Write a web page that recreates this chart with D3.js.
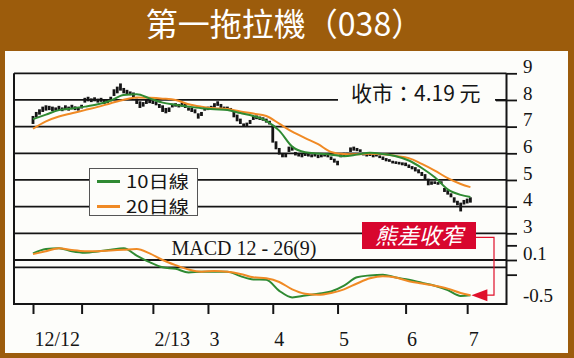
<!DOCTYPE html>
<html><head><meta charset="utf-8">
<script src="https://cdn.jsdelivr.net/npm/d3@7"></script>
<style>html,body{margin:0;padding:0;background:#9c5c0c;}svg{display:block;}</style>
</head><body>
<svg id="c" width="574" height="358"></svg>
<script>
// ---- data ----
const dayHigh = [7.40,7.55,7.65,7.75,7.80,7.78,7.75,7.72,7.78,7.72,7.80,7.75,7.82,7.76,7.74,7.82,8.08,8.12,8.06,8.10,
8.05,8.08,8.00,8.02,8.12,8.40,8.50,8.62,8.45,8.38,8.32,8.28,8.05,7.95,7.92,8.00,8.02,7.98,7.95,7.85,
7.80,7.70,7.72,7.86,7.88,7.85,7.90,7.85,7.72,7.70,7.65,7.50,7.55,7.72,7.75,7.78,7.88,7.95,7.85,7.75,
7.75,7.70,7.55,7.45,7.30,7.12,7.15,7.25,7.40,7.42,7.38,7.35,7.30,7.22,7.05,6.45,6.20,5.98,5.98,6.25,
6.25,6.05,6.00,5.98,6.02,5.98,5.96,5.98,5.95,5.96,6.00,5.95,5.88,5.80,5.72,5.98,6.02,6.02,6.22,6.25,
6.20,6.15,6.02,5.98,5.98,5.95,5.96,5.92,5.88,5.82,5.78,5.72,5.70,5.68,5.66,5.65,5.58,5.52,5.48,5.40,
5.30,5.22,5.05,4.95,4.95,4.92,4.95,4.70,4.62,4.50,4.35,4.22,4.15,4.25,4.30,4.35];
const dayLow = [7.10,7.35,7.45,7.55,7.60,7.62,7.58,7.60,7.62,7.58,7.62,7.60,7.65,7.62,7.60,7.68,7.90,7.95,7.92,7.95,
7.90,7.93,7.85,7.88,7.95,8.15,8.25,8.35,8.25,8.20,8.18,8.10,7.85,7.70,7.75,7.85,7.88,7.85,7.80,7.70,
7.55,7.50,7.55,7.72,7.75,7.72,7.75,7.70,7.60,7.55,7.50,7.30,7.40,7.60,7.62,7.65,7.72,7.78,7.70,7.65,
7.62,7.60,7.35,7.20,7.10,7.00,7.02,7.10,7.25,7.28,7.25,7.22,7.15,7.08,6.40,6.15,5.95,5.85,5.85,6.05,
6.10,5.92,5.88,5.85,5.90,5.88,5.85,5.88,5.82,5.85,5.88,5.85,5.75,5.65,5.55,5.85,5.90,5.92,6.05,6.10,
6.08,6.05,5.92,5.88,5.90,5.85,5.88,5.82,5.75,5.70,5.68,5.62,5.60,5.58,5.55,5.52,5.45,5.40,5.32,5.25,
5.15,5.00,4.80,4.82,4.85,4.82,4.85,4.55,4.45,4.35,4.15,4.05,3.82,4.08,4.12,4.15];
const sampleDays = [0,4,8,12,16,20,24,28,32,36,40,44,48,52,56,60,64,68,72,76,80,84,88,92,96,100,104,108,112,116,120,124,128,132,135];
const ma10 = [7.28,7.45,7.62,7.68,7.75,7.84,7.98,8.19,8.21,8.06,7.90,7.82,7.75,7.69,7.65,7.62,7.51,7.40,7.22,6.85,
6.25,6.04,5.99,5.95,5.89,5.95,6.02,5.97,5.89,5.73,5.45,5.10,4.65,4.44,4.36];
const ma20 = [6.92,7.20,7.38,7.50,7.62,7.74,7.88,8.01,8.09,8.08,8.05,8.00,7.84,7.75,7.69,7.66,7.57,7.49,7.40,7.11,
6.81,6.57,6.34,6.05,5.97,5.96,5.98,5.96,5.90,5.82,5.60,5.35,5.07,4.85,4.73];
const macdDif = [0.19,0.25,0.26,0.22,0.20,0.215,0.24,0.26,0.16,0.07,0.00,-0.02,-0.07,-0.06,-0.06,-0.06,-0.12,-0.165,-0.17,-0.32,
-0.41,-0.385,-0.36,-0.33,-0.25,-0.135,-0.11,-0.10,-0.14,-0.17,-0.21,-0.25,-0.31,-0.39,-0.38];
const macdDea = [0.18,0.22,0.26,0.235,0.22,0.22,0.23,0.24,0.25,0.19,0.10,0.03,-0.03,-0.06,-0.05,-0.06,-0.09,-0.135,-0.15,-0.20,
-0.30,-0.36,-0.375,-0.35,-0.30,-0.22,-0.15,-0.12,-0.14,-0.19,-0.22,-0.25,-0.29,-0.35,-0.38];
const monthTickDays = [0,15,37,54,74,94,115,134];
const monthLabels = ["12/12","","2/13","3","4","5","6","7"];
const priceTicks = [9,8,7,6,5,4,3];
const macdTicks = [0.3,0.1,-0.1,-0.5];
const macdTickLabels = {"0.1":"0.1","-0.5":"-0.5"};
const titleText = "第一拖拉機（038）";
const closeText = "收市：4.19 元";
const legendNames = ["10日線","20日線"];
const macdTitle = "MACD 12 - 26(9)";
const noteText = "熊差收窄";

// ---- drawing ----
const svg = d3.select("#c");
const GREEN = "#2f8a32", ORANGE = "#f08a24", INK = "#151515";
const CJK = "'Noto Sans CJK TC','Noto Sans CJK SC',sans-serif";
const SERIF = "'Liberation Serif','DejaVu Serif',serif";

svg.append("rect").attr("x",0).attr("y",0).attr("width",574).attr("height",358).attr("fill","#9c5c0c");
svg.append("rect").attr("x",5).attr("y",51).attr("width",563).attr("height",302).attr("fill","#fdfdfa");
svg.append("text").attr("x",284.5).attr("y",36).attr("text-anchor","middle")
  .attr("font-family",CJK).attr("font-size",32).attr("fill","#ffffff").text(titleText);

const L = 14, R = 506.5;
const x = d3.scaleLinear().domain([0,135]).range([33,470.4]);
const yP = d3.scaleLinear().domain([3,9]).range([233.3,73.3]);
const yM = d3.scaleLinear().domain([-0.5,0.1]).range([304,260]);

// gridlines
const grid = svg.append("g").attr("stroke",INK).attr("stroke-width",1.8);
priceTicks.forEach(t=>{
  grid.append("line").attr("x1",L).attr("x2",R).attr("y1",yP(t)).attr("y2",yP(t));
});
[0.1,0].forEach(t=>{
  grid.append("line").attr("x1",L).attr("x2",R).attr("y1",yM(t)).attr("y2",yM(t));
});
// frame
svg.append("path").attr("d",`M${L},${yP(9)}V${yM(-0.5)}H${R}V${yP(9)}`)
  .attr("fill","none").attr("stroke",INK).attr("stroke-width",2);

// right axes
const axP = d3.axisRight(yP).tickValues(priceTicks).tickSize(10.5).tickPadding(6).tickFormat(d3.format("d"));
const gP = svg.append("g").attr("transform",`translate(${R},0)`).call(axP);
const axM = d3.axisRight(yM).tickValues(macdTicks).tickSize(10.5).tickPadding(6)
  .tickFormat(d=>macdTickLabels[String(d)]||"");
const gM = svg.append("g").attr("transform",`translate(${R},0)`).call(axM);
[gP,gM].forEach(g=>{
  g.select(".domain").remove();
  g.selectAll(".tick line").attr("stroke",INK).attr("stroke-width",1.8);
  g.selectAll(".tick text").attr("font-family",SERIF).attr("font-size",19).attr("fill",INK)
    .attr("dy","-0.05em").attr("x",16.5);
});
gM.selectAll(".tick").filter(d=>d===-0.5).select("line").remove();
gM.selectAll(".tick").filter(d=>d===-0.5).select("text").attr("dy","-0.12em");
gP.selectAll(".tick").filter(d=>d===8).select("line").attr("x1",-10.5);

// bottom axis
const axB = d3.axisBottom(x).tickValues(monthTickDays).tickSize(10).tickPadding(18)
  .tickFormat((d,i)=>monthLabels[i]);
const gB = svg.append("g").attr("transform",`translate(0,${yM(-0.5)})`).call(axB);
gB.select(".domain").remove();
gB.selectAll(".tick line").attr("stroke",INK).attr("stroke-width",2);
gB.selectAll(".tick text").attr("font-family",SERIF).attr("font-size",20).attr("fill",INK)
  .attr("text-anchor","start").attr("x",1).attr("dy","0.71em");

// price bars
svg.append("g").selectAll("rect").data(dayHigh).join("rect")
  .attr("x",(d,i)=>x(i)-1.4).attr("width",2.8)
  .attr("y",d=>yP(d)).attr("height",(d,i)=>Math.max(2,yP(dayLow[i])-yP(d)))
  .attr("fill",INK);

const lineP = d3.line().x((d,i)=>x(sampleDays[i])).y(d=>yP(d)).curve(d3.curveMonotoneX);
const lineM = d3.line().x((d,i)=>x(sampleDays[i])).y(d=>yM(d)).curve(d3.curveMonotoneX);
svg.append("path").attr("d",lineP(ma20)).attr("fill","none").attr("stroke",ORANGE).attr("stroke-width",2);
svg.append("path").attr("d",lineP(ma10)).attr("fill","none").attr("stroke",GREEN).attr("stroke-width",2);
svg.append("path").attr("d",lineM(macdDif)).attr("fill","none").attr("stroke",GREEN).attr("stroke-width",2);
svg.append("path").attr("d",lineM(macdDea)).attr("fill","none").attr("stroke",ORANGE).attr("stroke-width",2);

// close label
svg.append("rect").attr("x",338).attr("y",86).attr("width",157).attr("height",22).attr("fill","#fdfdfa");
svg.append("text").attr("x",351).attr("y",101).attr("font-family",CJK).attr("font-size",21)
  .attr("fill",INK).attr("xml:space","preserve").text(closeText);

// legend
const lg = svg.append("g");
lg.append("rect").attr("x",89.5).attr("y",168.5).attr("width",108).attr("height",47)
  .attr("fill","#fdfdfa").attr("stroke","#555").attr("stroke-width",1);
[GREEN,ORANGE].forEach((c,i)=>{
  const yy = 181.5 + i*25;
  lg.append("line").attr("x1",97).attr("x2",120).attr("y1",yy).attr("y2",yy).attr("stroke",c).attr("stroke-width",3);
  lg.append("text").attr("x",126).attr("y",yy+6.5).attr("font-family",CJK).attr("font-size",17)
    .attr("textLength",63).attr("lengthAdjust","spacingAndGlyphs").attr("fill",INK).text(legendNames[i]);
});

// MACD title
svg.append("text").attr("x",244).attr("y",255).attr("text-anchor","middle")
  .attr("font-family",SERIF).attr("font-size",20).attr("fill",INK).text(macdTitle);

// note box and arrow
const RED = "#d8062e";
svg.append("rect").attr("x",362).attr("y",222).attr("width",114).attr("height",27).attr("fill",RED);
svg.append("text").attr("x",419).attr("y",243.5).attr("text-anchor","middle")
  .attr("font-family",CJK).attr("font-size",22).attr("font-style","italic").attr("fill","#fff").text(noteText);
const tipX = x(135), tipY = yM(macdDea[macdDea.length-1]);
svg.append("path").attr("d",`M476,237.3H494V${tipY}H${tipX+14}`).attr("fill","none")
  .attr("stroke","#e0102a").attr("stroke-width",1.2);
svg.append("path").attr("d",`M${tipX+1},${tipY}L${tipX+17},${tipY-6}L${tipX+17},${tipY+6}Z`).attr("fill","#e0102a");
</script>
</body></html>
